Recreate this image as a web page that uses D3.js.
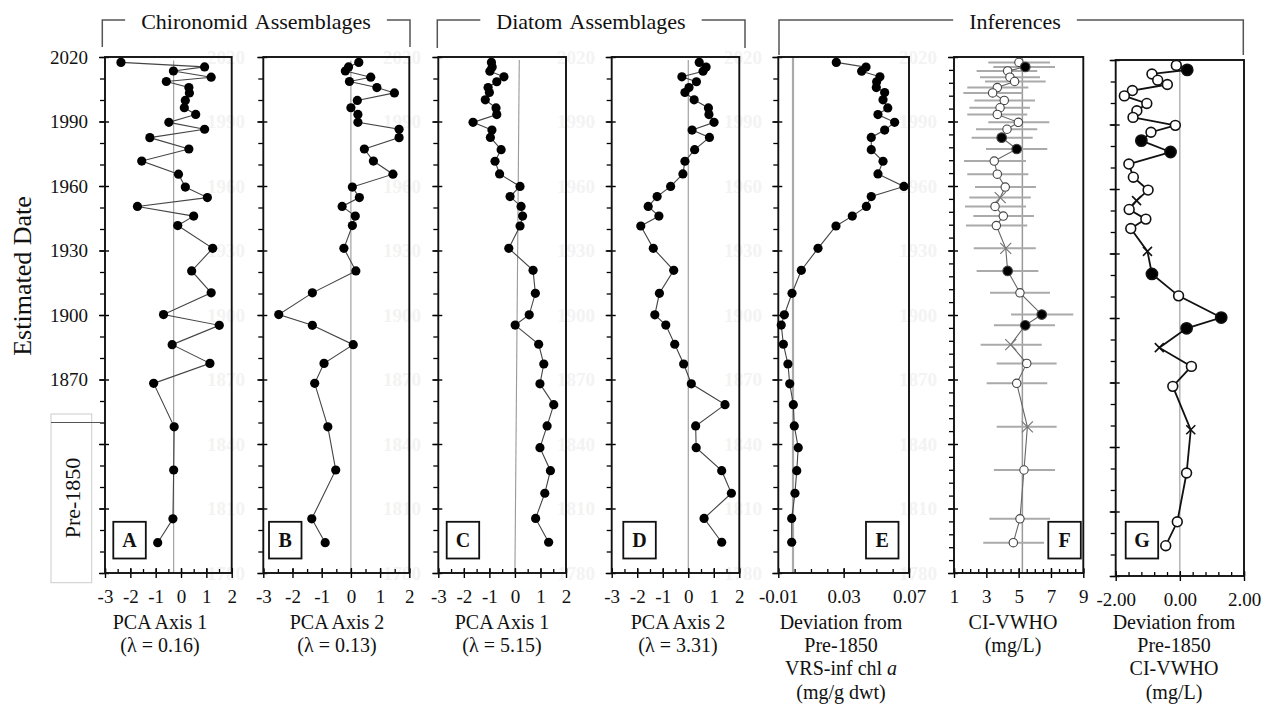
<!DOCTYPE html>
<html>
<head>
<meta charset="utf-8">
<script src="https://cdn.jsdelivr.net/npm/d3@7"></script>
<style>
  body { margin: 0; background: #fff; }
  svg text { font-family: "Liberation Serif", "Times New Roman", serif; fill: #111; }
</style>
</head>
<body>
<div id="chart"></div>
<script>
// chironomid samples (panels A, B, F, G)
var chiroYears = [2017.5, 2015.4, 2013.5, 2010.6, 2008.6, 2005.8, 2003.3, 1999.8, 1996.4, 1993.3, 1989.6,
  1986.4, 1982.5, 1977.2, 1971.6, 1965.5, 1959.5, 1954.6, 1950.5, 1946.0, 1941.6, 1931.0, 1920.5,
  1910.3, 1900.2, 1895.2, 1886.2, 1877.5, 1868.2, 1848.0, 1827.9, 1805.2, 1794.1];
var chiroPca1 = [-2.37, 0.93, -0.30, 1.19, -0.58, 0.31, 0.33, 0.17, 0.13, 0.58, -0.48, 0.93, -1.23,
  0.31, -1.55, -0.10, 0.17, 1.04, -1.72, 0.50, -0.13, 1.25, 0.42, 1.19, -0.69, 1.51, -0.35, 1.14,
  -1.08, -0.27, -0.29, -0.32, -0.92];
var chiroPca2 = [0.27, -0.08, -0.19, 0.68, -0.05, 0.89, 1.49, 0.22, 0.00, 0.24, 0.24, 1.65, 1.65,
  0.46, 0.77, 1.44, 0.05, 0.29, -0.30, 0.15, 0.05, -0.24, 0.17, -1.32, -2.47, -1.32, 0.08, -0.92,
  -1.24, -0.79, -0.52, -1.34, -0.88];

// diatom samples (panels C, D, E)
var diatomYears = [2017.5, 2015.3, 2013.4, 2010.8, 2008.5, 2005.8, 2003.5, 2000.1, 1996.3, 1993.2,
  1989.6, 1986.0, 1982.6, 1976.9, 1971.5, 1965.6, 1959.8, 1955.1, 1950.5, 1946.0, 1941.4, 1931.0,
  1920.8, 1910.1, 1900.1, 1895.3, 1886.4, 1877.2, 1868.0, 1858.3, 1848.4, 1838.3, 1827.6, 1817.1,
  1805.4, 1794.3];
var diatomPca1 = [-0.92, -0.89, -0.98, -0.43, -0.71, -1.05, -1.00, -1.16, -0.74, -0.71, -1.64, -0.90,
  -0.96, -0.54, -0.78, -0.60, 0.20, -0.19, 0.24, 0.30, 0.20, -0.24, 0.71, 0.80, 0.56, 0.01, 0.93,
  1.13, 0.98, 1.52, 1.26, 0.98, 1.39, 1.17, 0.81, 1.32];
var diatomPca2 = [0.43, 0.70, 0.58, -0.25, 0.32, 0.03, -0.13, 0.23, 0.79, 0.81, 1.01, 0.15, 0.83,
  0.25, -0.13, -0.21, -0.69, -1.22, -1.57, -1.15, -1.86, -1.37, -0.57, -1.13, -1.31, -0.88, -0.53,
  -0.18, 0.12, 1.44, 0.29, 0.31, 1.31, 1.69, 0.62, 1.31];
var chlDev = [0.0255, 0.0437, 0.0410, 0.0522, 0.0502, 0.0500, 0.0551, 0.0541, 0.0570, 0.0510, 0.0612,
  0.0551, 0.0469, 0.0469, 0.0541, 0.0510, 0.0669, 0.0469, 0.0439, 0.0353, 0.0253, 0.0143, 0.0041,
  -0.0016, -0.0063, -0.0082, -0.0069, -0.0041, -0.0030, -0.0008, -0.0002, 0.0022, 0.0013, 0.0002,
  -0.0018, -0.0018];

// chironomid-inferred VWHO (panel F) and its deviation (panel G)
var vwho = [5.02, 5.41, 4.32, 4.46, 4.75, 3.68, 3.39, 4.11, 3.85, 3.68, 4.98, 4.28, 3.95, 4.88, 3.49,
  3.68, 4.17, 3.86, 3.54, 4.05, 3.62, 4.20, 4.32, 5.08, 6.43, 5.41, 4.51, 5.50, 4.88, 5.54, 5.33,
  5.08, 4.67];
var vwhoLow = [3.12, 3.43, 2.40, 2.61, 2.92, 1.82, 1.58, 2.26, 1.95, 1.82, 3.12, 2.36, 2.09, 2.98,
  1.62, 1.82, 2.30, 1.95, 1.68, 2.20, 1.74, 2.22, 2.40, 3.23, 4.53, 3.47, 2.65, 3.64, 3.02, 3.64,
  3.47, 3.19, 2.81];
var vwhoHigh = [6.94, 7.25, 6.15, 6.32, 6.67, 5.60, 5.25, 6.01, 5.70, 5.53, 6.90, 6.15, 5.87, 6.77,
  5.45, 5.60, 6.07, 5.75, 5.45, 5.95, 5.53, 6.06, 6.22, 6.94, 8.38, 7.25, 6.43, 7.35, 6.77, 7.35,
  7.25, 6.94, 6.57];
var vwhoDev = [-0.11, 0.23, -0.87, -0.69, -0.39, -1.48, -1.73, -1.03, -1.34, -1.46, -0.14, -0.90,
  -1.20, -0.29, -1.59, -1.45, -0.99, -1.35, -1.58, -1.06, -1.53, -1.01, -0.87, -0.04, 1.29, 0.21,
  -0.64, 0.36, -0.22, 0.34, 0.21, -0.08, -0.44];
// o = open circle, f = filled circle, x = cross
var vwhoMarker = ["o", "f", "o", "o", "o", "o", "o", "o", "o", "o", "o", "o", "f", "f", "o", "o", "o",
  "x", "o", "o", "o", "x", "f", "o", "f", "f", "x", "o", "o", "x", "o", "o", "o"];

var yearLabels = [2020, 1990, 1960, 1930, 1900, 1870];
var ghostYears = [2020, 1990, 1960, 1930, 1900, 1870, 1840, 1810, 1780];
var yearDomain = [1780, 2020];

var width = 1266, height = 704;
var svg = d3.select("#chart").append("svg").attr("width", width).attr("height", height);

var fmtInt = function (d) { return String(d); };
var fmt2 = function (d) { return d.toFixed(2); };

var panels = [
  { key: "A", x0: 105, x1: 231.7, y0: 57, y1: 573, dom: [-3, 2], step: 0.5, major: [-3, -2, -1, 0, 1, 2], fmt: fmtInt,
    yStep: 10, ref: [-0.29, -0.29], refTop: 3.5, refStyle: ["#999", 1.1], kind: "dot", years: chiroYears, vals: chiroPca1,
    boxX: 113.3, ghostX: 226, titleX: 160, title: ["PCA Axis 1", "(λ = 0.16)"] },
  { key: "B", x0: 263.3, x1: 409.3, y0: 57, y1: 573, dom: [-3, 2], step: 0.5, major: [-3, -2, -1, 0, 1, 2], fmt: fmtInt,
    yStep: 10, ref: [0, 0], refTop: 3.5, refStyle: ["#999", 1.1], kind: "dot", years: chiroYears, vals: chiroPca2,
    boxX: 269, ghostX: 402, titleX: 337, title: ["PCA Axis 2", "(λ = 0.13)"] },
  { key: "C", x0: 438.3, x1: 566, y0: 57, y1: 573, dom: [-3, 2], step: 0.5, major: [-3, -2, -1, 0, 1, 2], fmt: fmtInt,
    yStep: 10, ref: [0.17, 0.0], refTop: 3, refStyle: ["#999", 1.1], kind: "dot", years: diatomYears, vals: diatomPca1,
    boxX: 446.7, ghostX: 576, titleX: 502, title: ["PCA Axis 1", "(λ = 5.15)"] },
  { key: "D", x0: 611.7, x1: 739.3, y0: 57, y1: 573, dom: [-3, 2], step: 0.5, major: [-3, -2, -1, 0, 1, 2], fmt: fmtInt,
    yStep: 10, ref: [0, 0], refTop: 3, refStyle: ["#999", 1.1], kind: "dot", years: diatomYears, vals: diatomPca2,
    boxX: 623.3, ghostX: 743, titleX: 678, title: ["PCA Axis 2", "(λ = 3.31)"] },
  { key: "E", x0: 778.3, x1: 909, y0: 57, y1: 573, dom: [-0.01, 0.07], step: 0.01, major: [-0.01, 0.03, 0.07], fmt: fmt2,
    yStep: 10, ref: [-0.001, -0.001], refTop: 0, refStyle: ["#aaa", 2.2], kind: "dot", years: diatomYears, vals: chlDev,
    boxX: 866, ghostX: 918, titleX: 841, title: ["Deviation from", "Pre-1850", ["VRS-inf chl ", "a"], "(mg/g dwt)"] },
  { key: "F", x0: 954, x1: 1083.3, y0: 57, y1: 573, dom: [1, 9], step: 0.5, major: [1, 3, 5, 7, 9], fmt: fmtInt,
    yStep: 6, ref: [5.23, 5.23], refTop: 0, refStyle: ["#999", 1.5], kind: "vwho", years: chiroYears, vals: vwho,
    boxX: 1048.3, ghostX: null, titleX: 1013, title: ["CI-VWHO", "(mg/L)"] },
  { key: "G", x0: 1115.7, x1: 1244, y0: 60, y1: 576, dom: [-2, 2], step: 0.4, major: [-2, 0, 2], fmt: fmt2,
    yStep: 10, ref: [0, 0], refTop: 0, refStyle: ["#999", 1.1], kind: "dev", years: chiroYears, vals: vwhoDev,
    boxX: 1125.7, ghostX: null, titleX: 1174, title: ["Deviation from", "Pre-1850", "CI-VWHO", "(mg/L)"] }
];

// header brackets over the panel groups
var groups = [
  { label: "Chironomid Assemblages", x0: 102.3, x1: 410, cx: 256, drop: 47 },
  { label: "Diatom Assemblages", x0: 437.3, x1: 745, cx: 591, drop: 48 },
  { label: "Inferences", x0: 779, x1: 1243.3, cx: 1015, drop: 55 }
];
groups.forEach(function (gr) {
  var t = svg.append("text").attr("x", gr.cx).attr("y", 29).attr("text-anchor", "middle")
    .style("font-size", "22px").style("word-spacing", "3px").text(gr.label);
  var w = t.node().getComputedTextLength();
  var a = gr.cx - w / 2 - 16, b = gr.cx + w / 2 + 16;
  svg.append("path")
    .attr("d", "M" + gr.x0 + "," + gr.drop + "V20H" + a + "M" + b + ",20H" + gr.x1 + "V" + gr.drop)
    .attr("fill", "none").attr("stroke", "#555").attr("stroke-width", 1.5);
});

panels.forEach(function (p) {
  var y = d3.scaleLinear().domain(yearDomain).range([p.y1, p.y0]);
  var x = d3.scaleLinear().domain(p.dom).range([p.x0, p.x1]);
  var g = svg.append("g");

  // faint leftover year labels on the right edge
  if (p.ghostX) {
    g.selectAll(".ghost").data(ghostYears).enter().append("text")
      .attr("x", p.ghostX).attr("y", function (d) { return y(d) + 6.5; })
      .attr("text-anchor", "middle").style("font-size", "19px").style("font-weight", "bold")
      .style("fill", "#f3f3f3").text(function (d) { return d; });
  }

  // reference line
  g.append("line")
    .attr("x1", x(p.ref[0])).attr("y1", p.y0 + p.refTop)
    .attr("x2", x(p.ref[1])).attr("y2", p.y1)
    .attr("stroke", p.refStyle[0]).attr("stroke-width", p.refStyle[1]);

  // y ticks
  var yMinor = d3.range(yearDomain[0], yearDomain[1] + 1, p.yStep);
  var yMajor = d3.range(yearDomain[0], yearDomain[1] + 1, 30);
  g.append("g").attr("transform", "translate(" + p.x0 + ",0)")
    .call(d3.axisLeft(y).tickValues(yMinor).tickSize(5).tickFormat(""))
    .call(function (s) { s.select(".domain").remove(); s.selectAll("line").attr("stroke-width", 1.3); });
  var yAx = g.append("g").attr("transform", "translate(" + p.x0 + ",0)")
    .call(d3.axisLeft(y).tickValues(yMajor).tickSize(6).tickPadding(11)
      .tickFormat(function (d) { return p.key === "A" && yearLabels.indexOf(d) >= 0 ? d : ""; }))
    .call(function (s) { s.select(".domain").remove(); s.selectAll("line").attr("x1", 4).attr("stroke-width", 1.4); });
  yAx.selectAll("text").style("font-size", "19px");

  // x ticks
  var n = Math.round((p.dom[1] - p.dom[0]) / p.step);
  var xMinor = d3.range(0, n + 1).map(function (i) { return p.dom[0] + i * p.step; });
  g.append("g").attr("transform", "translate(0," + p.y1 + ")")
    .call(d3.axisBottom(x).tickValues(xMinor).tickSize(-4).tickFormat(""))
    .call(function (s) { s.select(".domain").remove(); s.selectAll("line").attr("stroke-width", 1.3); });
  var xAx = g.append("g").attr("transform", "translate(0," + p.y1 + ")")
    .call(d3.axisBottom(x).tickValues(p.major).tickSize(5).tickFormat(p.fmt))
    .call(function (s) { s.select(".domain").remove(); s.selectAll("line").attr("y1", -5).attr("stroke-width", 1.4); });
  xAx.selectAll("text").attr("y", 30).attr("dy", null).style("font-size", "19px");

  // frame
  g.append("rect").attr("x", p.x0).attr("y", p.y0)
    .attr("width", p.x1 - p.x0).attr("height", p.y1 - p.y0)
    .attr("fill", "none").attr("stroke", "#111").attr("stroke-width", 1.9);

  var pts = p.vals.map(function (v, i) { return { v: v, yr: p.years[i], i: i }; });
  var line = d3.line().x(function (d) { return x(d.v); }).y(function (d) { return y(d.yr); });

  if (p.kind === "vwho") {
    g.selectAll(".err").data(pts).enter().append("line")
      .attr("x1", function (d) { return x(vwhoLow[d.i]); }).attr("x2", function (d) { return x(vwhoHigh[d.i]); })
      .attr("y1", function (d) { return y(d.yr); }).attr("y2", function (d) { return y(d.yr); })
      .attr("stroke", "#aaa").attr("stroke-width", 2);
  }

  var lineStroke = p.kind === "dev" ? ["#111", 1.8] : (p.kind === "vwho" ? ["#666", 1.1] : ["#444", 1.1]);
  g.append("path").datum(pts).attr("d", line)
    .attr("fill", "none").attr("stroke", lineStroke[0]).attr("stroke-width", lineStroke[1]);

  if (p.kind === "dot") {
    g.selectAll(".pt").data(pts).enter().append("circle")
      .attr("cx", function (d) { return x(d.v); }).attr("cy", function (d) { return y(d.yr); })
      .attr("r", 4.6).attr("fill", "#000");
  } else {
    var big = p.kind === "dev";
    var mk = g.selectAll(".mk").data(pts).enter().append("g")
      .attr("transform", function (d) { return "translate(" + x(d.v) + "," + y(d.yr) + ")"; });
    mk.filter(function (d) { return vwhoMarker[d.i] !== "x"; }).append("circle")
      .attr("r", function (d) { return vwhoMarker[d.i] === "f" ? (big ? 5.6 : 4.8) : (big ? 4.9 : 4.2); })
      .attr("fill", function (d) { return vwhoMarker[d.i] === "f" ? "#000" : "#fff"; })
      .attr("stroke", big ? "#111" : "#444").attr("stroke-width", big ? 1.6 : 1.1);
    var s = big ? 4.5 : 5.5;
    mk.filter(function (d) { return vwhoMarker[d.i] === "x"; }).append("path")
      .attr("d", "M" + (-s) + "," + (-s) + "L" + s + "," + s + "M" + (-s) + "," + s + "L" + s + "," + (-s))
      .attr("stroke", big ? "#111" : "#777").attr("stroke-width", big ? 1.6 : 1.2);
  }

  // panel letter box
  g.append("rect").attr("x", p.boxX).attr("y", 521.8).attr("width", 32.5).attr("height", 36.7)
    .attr("fill", "#fff").attr("stroke", "#111").attr("stroke-width", 1.8);
  g.append("text").attr("x", p.boxX + 16.25).attr("y", 521.8 + 25.5).attr("text-anchor", "middle")
    .style("font-size", "20px").style("font-weight", "bold").text(p.key);

  // axis title
  p.title.forEach(function (ln, k) {
    var t = g.append("text").attr("x", p.titleX).attr("y", 629 + k * 23.2)
      .attr("text-anchor", "middle").style("font-size", "20px");
    if (typeof ln === "string") {
      t.text(ln);
    } else {
      t.append("tspan").text(ln[0]);
      t.append("tspan").style("font-style", "italic").text(ln[1]);
    }
  });
});

// left label and pre-1850 box
svg.append("text").attr("transform", "translate(31,276) rotate(-90)")
  .attr("text-anchor", "middle").style("font-size", "26px").text("Estimated Date");

var yMain = d3.scaleLinear().domain(yearDomain).range([573, 57]);
svg.append("rect").attr("x", 51).attr("y", 414).attr("width", 40.7).attr("height", 168.7)
  .attr("fill", "#fff").attr("stroke", "#ccc").attr("stroke-width", 1);
svg.append("line").attr("x1", 51).attr("x2", 100).attr("y1", yMain(1850)).attr("y2", yMain(1850))
  .attr("stroke", "#555").attr("stroke-width", 1.2);
svg.append("text").attr("transform", "translate(79.5,498) rotate(-90)")
  .attr("text-anchor", "middle").style("font-size", "22px").text("Pre-1850");
</script>
</body>
</html>
